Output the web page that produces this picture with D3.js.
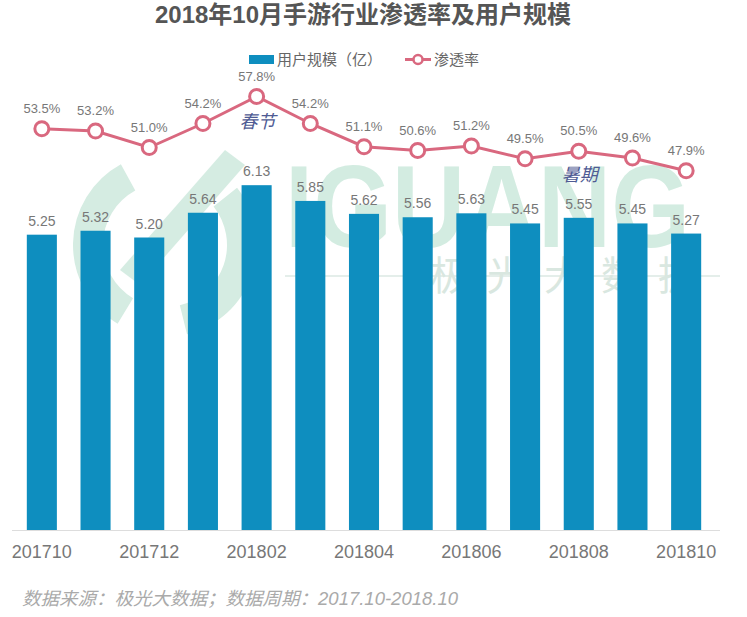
<!DOCTYPE html>
<html><head><meta charset="utf-8">
<script src="https://cdn.jsdelivr.net/npm/d3@7"></script>
<style>body{margin:0;background:#fff}svg{display:block}</style>
</head><body>
<svg id="c" width="747" height="617"></svg>
<script>
const months = ["201710","201711","201712","201801","201802","201803","201804","201805","201806","201807","201808","201809","201810"];
const users = [5.25,5.32,5.20,5.64,6.13,5.85,5.62,5.56,5.63,5.45,5.55,5.45,5.27];
const penetration = [53.5,53.2,51.0,54.2,57.8,54.2,51.1,50.6,51.2,49.5,50.5,49.6,47.9];
const tickLabels = ["201710","201712","201802","201804","201806","201808","201810"];
const annotations = [{month:"201802", text:"春节", series:54.5},{month:"201808", text:"暑期", series:47.5}];

const svg = d3.select("#c");
const base = 530;
const font = "'Liberation Sans','Noto Sans CJK SC',sans-serif";

const x = d3.scaleBand().domain(months).range([15, 713]).paddingInner(0.44).paddingOuter(0.22);
const yBar = d3.scaleLinear().domain([0, 8]).range([base, 80]);
const yLine = d3.scaleLinear().domain([0, 70]).range([base, 5]);

// watermark
const wm = svg.append("g").attr("class","watermark");
wm.append("path")
  .attr("d", d3.arc()({innerRadius:62, outerRadius:92, startAngle:-2.6, endAngle:-0.5}))
  .attr("transform","translate(165,245)").attr("fill","#d5ece2");
wm.append("path")
  .attr("d", d3.arc()({innerRadius:62, outerRadius:92, startAngle:0.9, endAngle:2.9}))
  .attr("transform","translate(165,245)").attr("fill","#d5ece2");
wm.append("path").attr("d","M120,270 L225,150 L245,165 L140,285 Z").attr("fill","#d5ece2");
wm.append("text").attr("x",285).attr("y",247).attr("font-family",font).attr("font-weight","bold")
  .attr("font-size",117).attr("textLength",405).attr("lengthAdjust","spacingAndGlyphs")
  .attr("fill","#d3ece1").text("IGUANG");
wm.append("line").attr("x1",285).attr("x2",720).attr("y1",276).attr("y2",276).attr("stroke","#e4eeea").attr("stroke-width",2);
wm.append("text").attr("x",430).attr("y",290).attr("font-family",font)
  .attr("font-size",40).attr("letter-spacing",17).attr("fill","#d9e7e0").text("极光大数据");

// title
svg.append("text").attr("x",363).attr("y",23).attr("text-anchor","middle")
  .attr("font-family",font).attr("font-weight","bold").attr("font-size",24).attr("fill","#555").text("2018年10月手游行业渗透率及用户规模");

// legend
const lg = svg.append("g");
lg.append("rect").attr("x",249).attr("y",55).attr("width",25).attr("height",9).attr("fill","#0e8ebf");
lg.append("text").attr("x",277).attr("y",65).attr("font-family",font).attr("font-size",15).attr("fill","#666").text("用户规模（亿）");
lg.append("line").attr("x1",405).attr("x2",431).attr("y1",59.5).attr("y2",59.5).attr("stroke","#d9687f").attr("stroke-width",3);
lg.append("circle").attr("cx",418).attr("cy",59.5).attr("r",4.5).attr("fill","#fff").attr("stroke","#d9687f").attr("stroke-width",2.5);
lg.append("text").attr("x",434).attr("y",65).attr("font-family",font).attr("font-size",15).attr("fill","#666").text("渗透率");

// bars
svg.append("g").selectAll("rect").data(users).join("rect")
  .attr("x",(d,i)=>x(months[i])).attr("width",x.bandwidth())
  .attr("y",d=>yBar(d)).attr("height",d=>base-yBar(d)).attr("fill","#0e8ebf");
svg.append("g").selectAll("text").data(users).join("text")
  .attr("x",(d,i)=>x(months[i])+x.bandwidth()/2).attr("y",d=>yBar(d)-9)
  .attr("text-anchor","middle").attr("font-family",font).attr("font-size",14).attr("fill","#777")
  .text(d=>d.toFixed(2));

// axis
const xAxis = d3.axisBottom(x).tickValues(tickLabels).tickSize(0).tickPadding(15);
const ax = svg.append("g").attr("transform",`translate(0,${base})`).call(xAxis);
ax.select(".domain").attr("stroke","#ddd").attr("d","M12,0.5H720");
ax.selectAll("text").attr("font-family",font).attr("font-size",18).attr("fill","#777");

// line
const line = d3.line().x((d,i)=>x(months[i])+x.bandwidth()/2).y(d=>yLine(d));
svg.append("path").datum(penetration).attr("d",line).attr("fill","none").attr("stroke","#d9687f").attr("stroke-width",3);
svg.append("g").selectAll("circle").data(penetration).join("circle")
  .attr("cx",(d,i)=>x(months[i])+x.bandwidth()/2).attr("cy",d=>yLine(d)).attr("r",7)
  .attr("fill","#fff").attr("stroke","#d9687f").attr("stroke-width",3);
svg.append("g").selectAll("text").data(penetration).join("text")
  .attr("x",(d,i)=>x(months[i])+x.bandwidth()/2).attr("y",d=>yLine(d)-16)
  .attr("text-anchor","middle").attr("font-family",font).attr("font-size",13).attr("fill","#777")
  .text(d=>d.toFixed(1)+"%");

// annotations
svg.append("g").selectAll("text").data(annotations).join("text")
  .attr("x",d=>x(d.month)+x.bandwidth()/2+1).attr("y",d=>yLine(d.series)+7)
  .attr("text-anchor","middle").attr("font-family",font).attr("font-style","italic")
  .attr("font-size",18).attr("fill","#4f5b94").text(d=>d.text);

// source
svg.append("text").attr("x",22).attr("y",605).attr("font-family",font).attr("font-style","italic")
  .attr("font-size",18).attr("textLength",436).attr("lengthAdjust","spacingAndGlyphs")
  .attr("fill","#aaa").text("数据来源：极光大数据；数据周期：2017.10-2018.10");
</script>
</body></html>
